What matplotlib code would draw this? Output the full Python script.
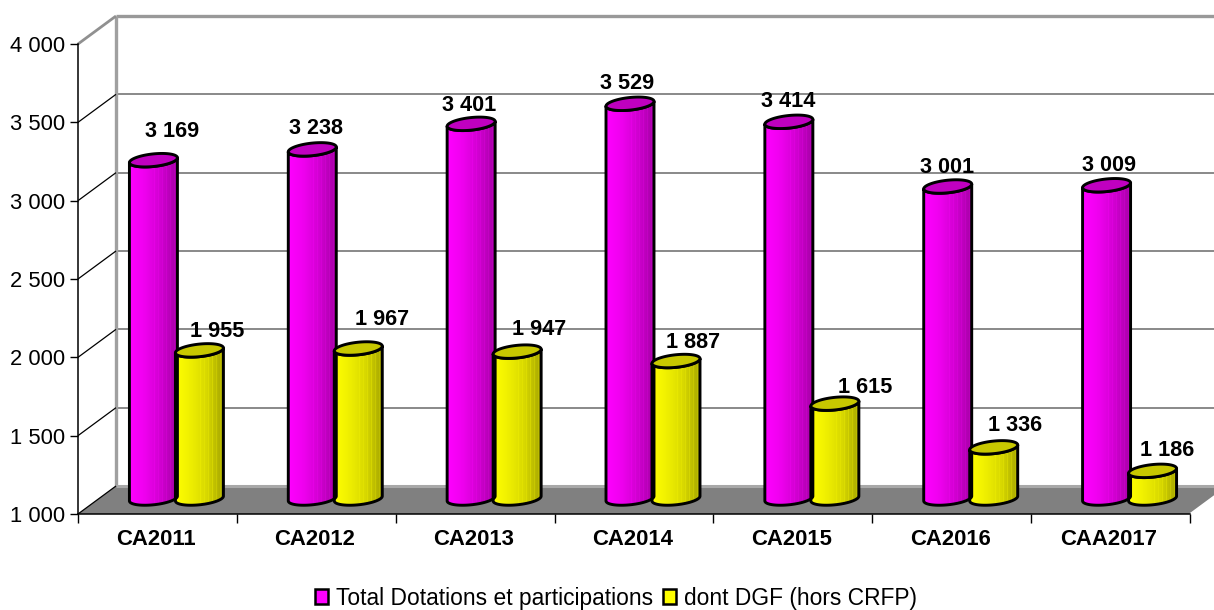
import numpy as np
import matplotlib
matplotlib.use("Agg")
import matplotlib.pyplot as plt
from matplotlib.patches import Polygon, Patch
from matplotlib.colors import LinearSegmentedColormap

plt.rcParams['font.family'] = ['Liberation Sans', 'DejaVu Sans']

categories = ['CA2011', 'CA2012', 'CA2013', 'CA2014', 'CA2015', 'CA2016', 'CAA2017']
total_dotations = [3169, 3238, 3401, 3529, 3414, 3001, 3009]
dont_dgf = [1955, 1967, 1947, 1887, 1615, 1336, 1186]
series_names = ['Total Dotations et participations', 'dont DGF (hors CRFP)']
yticks = [1000, 1500, 2000, 2500, 3000, 3500, 4000]

# label nudges in pixels relative to the bar-top centre
total_nudge = [(19, 29), (4, 21), (-2, 18), (-3, 20), (-1, 20), (-1, 19), (2, 20)]
dgf_nudge = [(18, 19), (24, 29), (22, 22), (17, 19), (30, 16), (21, 22), (15, 20)]

fig = plt.figure(figsize=(12.14, 6.10), dpi=100)
ax = fig.add_axes([78/1214, (610-514)/610, 1112/1214, 470/610])
ax.set_xlim(0, 7)
ax.set_ylim(1000, 4000)
ax.patch.set_alpha(0)

PX = 7/1112      # data x per pixel
PY = 3000/470    # data y per pixel
DX, DY = 38*PX, 28*PY   # depth of the 3D box
TOP_LIFT = 14    # pixels


def line(xs, ys, color, lw, z=1, **kw):
    ax.plot(xs, ys, color=color, lw=lw, zorder=z, clip_on=False,
            solid_capstyle='butt', **kw)


# floor
ax.add_patch(Polygon([(0, 1000), (DX, 1000+DY), (7+DX, 1000+DY), (7, 1000)],
                     closed=True, fc='#808080', ec='none', zorder=1, clip_on=False))
line([7, 7+DX], [1000, 1000+DY], 'white', 1.2, z=1.1)
# back wall
for v in yticks[1:-1]:
    line([DX, 8], [v+DY, v+DY], '#808080', 1.3)
line([DX, 8], [4000+DY, 4000+DY], '#999999', 2.4)
line([DX, 8], [1000+DY, 1000+DY], '#a8a8a8', 2.2, z=1.2)
line([DX, DX], [1000+DY, 4000+DY], '#a0a0a0', 2.4)
# side wall
for v in yticks[:-1]:
    line([0, DX], [v, v+DY], 'black', 0.9, z=1.3)
line([0, DX], [4000, 4000+DY], '#909090', 2.0)

HALF_W, HALF_H, SLOPE = 24, 6.3, 2.4
bar_shift = 23


def cylinder(xc, value, cmap, cap):
    base = 1000 + 15.5*PY
    top = value + TOP_LIFT*PY
    tb = np.linspace(np.pi, 2*np.pi, 40)
    xb = xc + HALF_W*np.cos(tb)*PX
    yb = base + (SLOPE*np.cos(tb) + HALF_H*np.sin(tb))*PY
    xt = xc + HALF_W*np.cos(tb[::-1])*PX
    yt = top + (SLOPE*np.cos(tb[::-1]) + HALF_H*np.sin(tb[::-1]))*PY
    body = Polygon(np.r_[np.c_[xb, yb], np.c_[xt, yt]], closed=True,
                   fc='none', ec='black', lw=2.1, zorder=3, clip_on=False, joinstyle='round')
    ax.add_patch(body)
    g = np.linspace(0, 1, 48)
    g = g - 0.10*((np.arange(48) % 4 == 1) & (g > 0.45))
    im = ax.imshow(g[None, :], cmap=cmap, vmin=0, vmax=1, aspect='auto',
                   extent=[xc-HALF_W*PX, xc+HALF_W*PX, base-8*PY, top+8*PY],
                   zorder=2.5, interpolation='nearest')
    clip = Polygon(body.get_xy(), closed=True, transform=ax.transData)
    im.set_clip_path(clip)
    tc = np.linspace(0, 2*np.pi, 80)
    xc2 = xc + HALF_W*np.cos(tc)*PX
    yc2 = top + (SLOPE*np.cos(tc) + HALF_H*np.sin(tc))*PY
    ax.add_patch(Polygon(np.c_[xc2, yc2], closed=True, fc=cap, ec='black', lw=2.1,
                         zorder=4, clip_on=False))


mag = LinearSegmentedColormap.from_list('m', ['#ff00ff', '#ee00ee', '#d000d0', '#a800a8'])
yel = LinearSegmentedColormap.from_list('y', ['#ffff00', '#eeee00', '#d8d800', '#a8a800'])
fmt = lambda v: f"{v:,}".replace(",", " ")

cx = np.arange(len(categories)) + 0.5 + 19*PX
for i, (a, b) in enumerate(zip(total_dotations, dont_dgf)):
    xa = cx[i] - bar_shift*PX
    xb = cx[i] + bar_shift*PX
    cylinder(xa, a, mag, '#c000c0')
    cylinder(xb, b, yel, '#c8c800')
    ax.text(xa + total_nudge[i][0]*PX, a + TOP_LIFT*PY + total_nudge[i][1]*PY, fmt(a),
            ha='center', va='center', fontsize=15.6, fontweight='bold', zorder=6, clip_on=False)
    ax.text(xb + dgf_nudge[i][0]*PX, b + TOP_LIFT*PY + dgf_nudge[i][1]*PY, fmt(b),
            ha='center', va='center', fontsize=15.6, fontweight='bold', zorder=6, clip_on=False)

ax.set_xlim(0, 7)
ax.set_ylim(1000, 4000)
for s in ('top', 'right'):
    ax.spines[s].set_visible(False)
for s in ('left', 'bottom'):
    ax.spines[s].set_linewidth(1.1)
    ax.spines[s].set_zorder(5)
ax.set_yticks(yticks, [fmt(v) for v in yticks], fontsize=15.8)
ax.set_xticks(np.arange(8))
ax.set_xticklabels([])
ax.set_xticks(np.arange(7)+0.49, categories, minor=True, fontsize=15.9, fontweight='bold')
ax.tick_params(axis='y', length=6, width=1, pad=3)
ax.tick_params(axis='x', which='major', length=6.5, width=1)
ax.tick_params(axis='x', which='minor', length=0, pad=11)

fig.legend(handles=[Patch(fc='#ff00ff', ec='black', lw=1.8), Patch(fc='#ffff00', ec='black', lw=1.8)],
           labels=series_names, loc='center', bbox_to_anchor=(616/1214, (610-598)/610),
           ncol=2, frameon=False, fontsize=16.4, handlelength=0.58, handleheight=0.58,
           handletextpad=0.35, columnspacing=0.42, borderpad=0, borderaxespad=0)

fig.savefig('out.png', dpi=100)
